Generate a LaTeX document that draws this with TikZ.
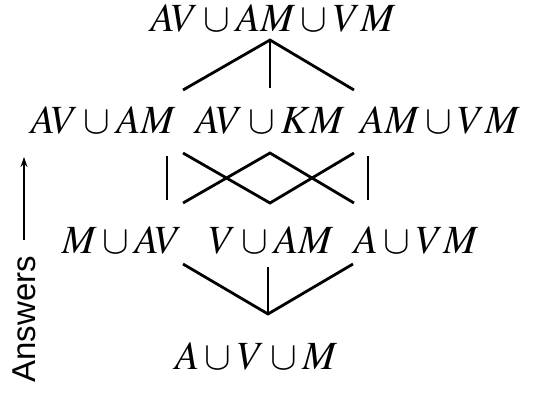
\documentclass[tikz,border=0pt]{standalone}
\usepackage{mathptmx}
\usepackage{fontspec}
\usetikzlibrary{arrows.meta}
\newfontfamily\ansfont{Liberation Sans}
\tikzset{
    setnode/.style={inner sep=2pt, font=\fontsize{20}{23}\selectfont},
    edge/.style={line width=1.4pt},
}
\begin{document}
\begin{tikzpicture}[x=0.5pt, y=-0.5pt]
        \useasboundingbox (0,0) rectangle (550,392);

        % Levels
        \node[setnode] (top) at (273, 18) {$AV\cup AM\cup VM$};
        \node[setnode] (avam) at (103, 120) {$AV\cup AM$};
        \node[setnode] (avkm) at (270, 120) {$AV\cup KM$};
        \node[setnode] (amvm) at (440, 120) {$AM\cup VM$};
        \node[setnode] (mav) at (122, 240) {$M\cup AV$};
        \node[setnode] (vam) at (271, 240) {$V\cup AM$};
        \node[setnode] (avm) at (416, 240) {$A\cup VM$};
        \node[setnode] (bot) at (256, 356) {$A\cup V\cup M$};

        % Line ends
        \coordinate (t0) at (270, 40);
        \coordinate (t1) at (183, 90);
        \coordinate (t2) at (270, 88);
        \coordinate (t3) at (354, 90);
        \coordinate (u1) at (183, 153);
        \coordinate (u2) at (270, 153);
        \coordinate (u3) at (354, 153);
        \coordinate (l1) at (183, 203);
        \coordinate (l2) at (270, 203);
        \coordinate (l3) at (354, 203);
        \coordinate (b0) at (268, 314);
        \coordinate (b1) at (183, 264);
        \coordinate (b2) at (268, 267);
        \coordinate (b3) at (353, 264);

        \draw[edge] (t1) -- (t0) -- (t3);
        \draw[edge] (t0) -- (t2);
        \draw[edge] (u1) -- (l2) -- (u3);
        \draw[edge] (l1) -- (u2) -- (l3);
        \draw[edge] (167, 156) -- (167, 200);
        \draw[edge] (368, 156) -- (368, 200);
        \draw[edge] (b1) -- (b0) -- (b3);
        \draw[edge] (b0) -- (b2);

        % Answers
        \node[rotate=90, anchor=west, inner sep=0pt, font=\ansfont\fontsize{16.5}{18}\selectfont] (ans) at (24, 383) {Answers};
        \coordinate (tip) at (26, 157);
        \draw[-{Stealth[length=5pt, width=3.5pt]}, line width=0.9pt, shorten <=8pt] (ans.east) -- (ans.east |- tip);
    \end{tikzpicture}
\end{document}
